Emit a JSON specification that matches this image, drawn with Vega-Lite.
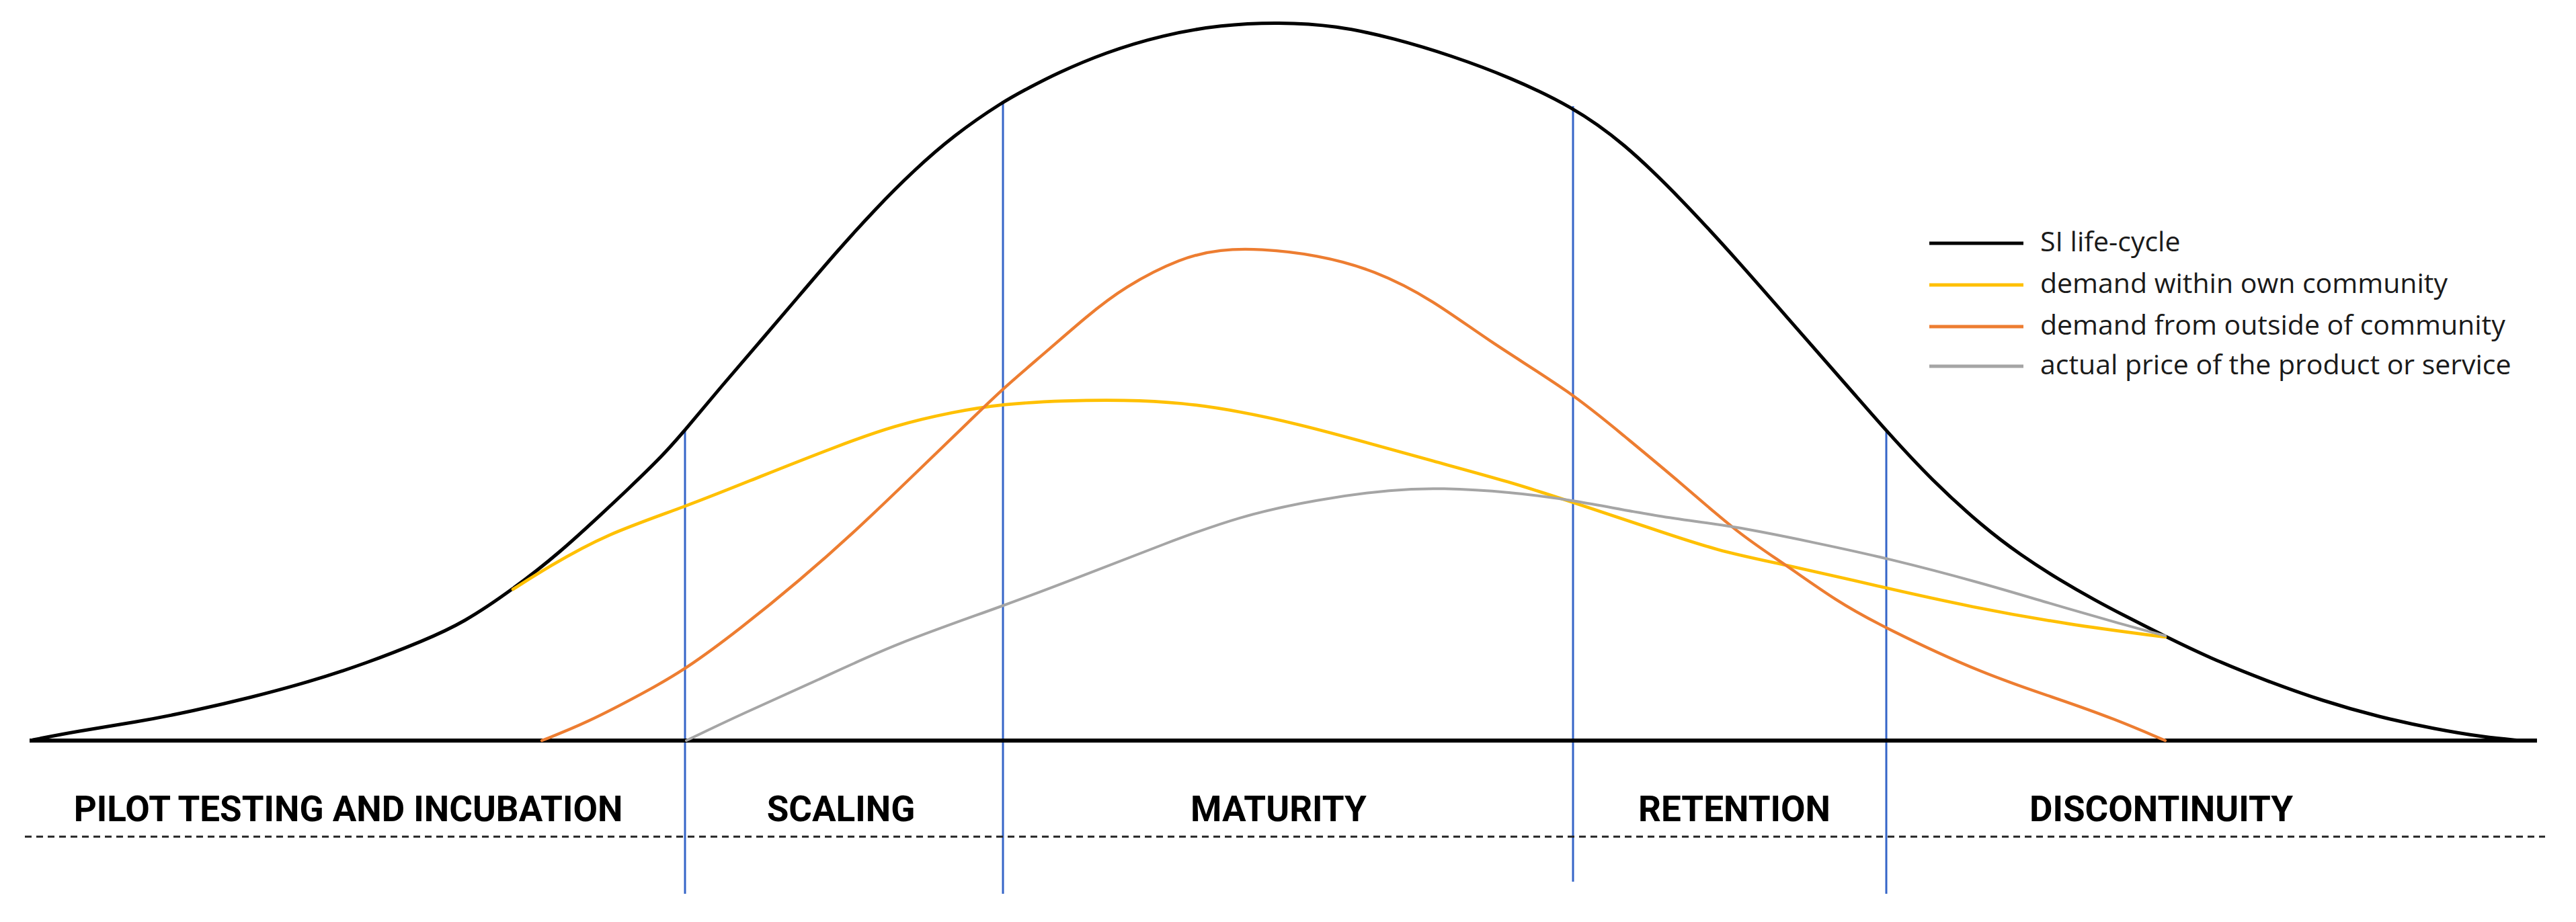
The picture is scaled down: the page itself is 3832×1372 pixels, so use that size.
{
  "$schema": "https://vega.github.io/schema/vega-lite/v6.json",
  "width": 3832,
  "height": 1372,
  "autosize": {"type": "fit", "contains": "padding"},
  "padding": 0,
  "background": "white",
  "config": {"view": {"stroke": null}},
  "datasets": {
    "curves": [
      {"series": "SI life-cycle", "x": 4.9, "y": 0.1},
      {"series": "SI life-cycle", "x": 11.5, "y": 1.4},
      {"series": "SI life-cycle", "x": 20.1, "y": 2.7},
      {"series": "SI life-cycle", "x": 28.7, "y": 4.4},
      {"series": "SI life-cycle", "x": 37.3, "y": 6.4},
      {"series": "SI life-cycle", "x": 45.9, "y": 8.7},
      {"series": "SI life-cycle", "x": 54.5, "y": 11.5},
      {"series": "SI life-cycle", "x": 63.1, "y": 14.9},
      {"series": "SI life-cycle", "x": 68.9, "y": 17.5},
      {"series": "SI life-cycle", "x": 76.3, "y": 22.5},
      {"series": "SI life-cycle", "x": 83.2, "y": 27.9},
      {"series": "SI life-cycle", "x": 90, "y": 34.2},
      {"series": "SI life-cycle", "x": 93, "y": 37},
      {"series": "SI life-cycle", "x": 98.7, "y": 42.5},
      {"series": "SI life-cycle", "x": 102, "y": 46.3},
      {"series": "SI life-cycle", "x": 107.3, "y": 52.7},
      {"series": "SI life-cycle", "x": 113.1, "y": 59.4},
      {"series": "SI life-cycle", "x": 118.8, "y": 66.1},
      {"series": "SI life-cycle", "x": 124.5, "y": 72.8},
      {"series": "SI life-cycle", "x": 130.3, "y": 79.2},
      {"series": "SI life-cycle", "x": 136, "y": 84.9},
      {"series": "SI life-cycle", "x": 141.8, "y": 90},
      {"series": "SI life-cycle", "x": 149.2, "y": 95.1},
      {"series": "SI life-cycle", "x": 153.2, "y": 97.2},
      {"series": "SI life-cycle", "x": 157, "y": 99.2},
      {"series": "SI life-cycle", "x": 164.4, "y": 102.4},
      {"series": "SI life-cycle", "x": 173, "y": 105},
      {"series": "SI life-cycle", "x": 181.6, "y": 106.5},
      {"series": "SI life-cycle", "x": 190.2, "y": 106.9},
      {"series": "SI life-cycle", "x": 198.8, "y": 106.4},
      {"series": "SI life-cycle", "x": 207.4, "y": 104.5},
      {"series": "SI life-cycle", "x": 216, "y": 101.9},
      {"series": "SI life-cycle", "x": 224.6, "y": 98.7},
      {"series": "SI life-cycle", "x": 233.8, "y": 94.4},
      {"series": "SI life-cycle", "x": 241.5, "y": 89},
      {"series": "SI life-cycle", "x": 250.1, "y": 80.6},
      {"series": "SI life-cycle", "x": 258.7, "y": 71.2},
      {"series": "SI life-cycle", "x": 267.3, "y": 61.3},
      {"series": "SI life-cycle", "x": 275.9, "y": 51.5},
      {"series": "SI life-cycle", "x": 280.5, "y": 46.2},
      {"series": "SI life-cycle", "x": 287.4, "y": 38.7},
      {"series": "SI life-cycle", "x": 295, "y": 31.8},
      {"series": "SI life-cycle", "x": 300.6, "y": 27.6},
      {"series": "SI life-cycle", "x": 306.2, "y": 24},
      {"series": "SI life-cycle", "x": 311.8, "y": 20.8},
      {"series": "SI life-cycle", "x": 316, "y": 18.6},
      {"series": "SI life-cycle", "x": 321.9, "y": 15.6},
      {"series": "SI life-cycle", "x": 328.7, "y": 12.3},
      {"series": "SI life-cycle", "x": 337.1, "y": 8.9},
      {"series": "SI life-cycle", "x": 345.5, "y": 5.9},
      {"series": "SI life-cycle", "x": 353.9, "y": 3.5},
      {"series": "SI life-cycle", "x": 362.3, "y": 1.7},
      {"series": "SI life-cycle", "x": 369.5, "y": 0.5},
      {"series": "SI life-cycle", "x": 375, "y": 0},

      {"series": "demand within own community", "x": 76.3, "y": 22.5},
      {"series": "demand within own community", "x": 81.5, "y": 25.8},
      {"series": "demand within own community", "x": 90.1, "y": 30.7},
      {"series": "demand within own community", "x": 102, "y": 34.8},
      {"series": "demand within own community", "x": 113.1, "y": 39.3},
      {"series": "demand within own community", "x": 124.5, "y": 43.8},
      {"series": "demand within own community", "x": 133.1, "y": 46.9},
      {"series": "demand within own community", "x": 141.8, "y": 48.9},
      {"series": "demand within own community", "x": 149.2, "y": 50.1},
      {"series": "demand within own community", "x": 158.6, "y": 50.6},
      {"series": "demand within own community", "x": 167.2, "y": 50.7},
      {"series": "demand within own community", "x": 175.8, "y": 50.3},
      {"series": "demand within own community", "x": 184.4, "y": 49},
      {"series": "demand within own community", "x": 193.1, "y": 47.1},
      {"series": "demand within own community", "x": 201.7, "y": 44.8},
      {"series": "demand within own community", "x": 213.1, "y": 41.6},
      {"series": "demand within own community", "x": 224.6, "y": 38.5},
      {"series": "demand within own community", "x": 233.8, "y": 35.5},
      {"series": "demand within own community", "x": 244.4, "y": 32},
      {"series": "demand within own community", "x": 255.8, "y": 28.1},
      {"series": "demand within own community", "x": 265.6, "y": 26.2},
      {"series": "demand within own community", "x": 280.5, "y": 22.7},
      {"series": "demand within own community", "x": 293.1, "y": 19.9},
      {"series": "demand within own community", "x": 307.5, "y": 17.3},
      {"series": "demand within own community", "x": 322.1, "y": 15.4},

      {"series": "demand from outside of community", "x": 80.6, "y": 0},
      {"series": "demand from outside of community", "x": 87.2, "y": 2.6},
      {"series": "demand from outside of community", "x": 95.8, "y": 7.1},
      {"series": "demand from outside of community", "x": 102, "y": 10.6},
      {"series": "demand from outside of community", "x": 110.2, "y": 16.7},
      {"series": "demand from outside of community", "x": 118.8, "y": 23.7},
      {"series": "demand from outside of community", "x": 127.4, "y": 31.3},
      {"series": "demand from outside of community", "x": 136, "y": 39.6},
      {"series": "demand from outside of community", "x": 144.6, "y": 47.9},
      {"series": "demand from outside of community", "x": 149.2, "y": 52.4},
      {"series": "demand from outside of community", "x": 155.7, "y": 57.9},
      {"series": "demand from outside of community", "x": 161.5, "y": 63},
      {"series": "demand from outside of community", "x": 167.2, "y": 67.5},
      {"series": "demand from outside of community", "x": 175.8, "y": 71.9},
      {"series": "demand from outside of community", "x": 181.6, "y": 73.1},
      {"series": "demand from outside of community", "x": 187.3, "y": 73.2},
      {"series": "demand from outside of community", "x": 195.9, "y": 72.3},
      {"series": "demand from outside of community", "x": 204.5, "y": 70},
      {"series": "demand from outside of community", "x": 213.1, "y": 65.6},
      {"series": "demand from outside of community", "x": 221.8, "y": 59.2},
      {"series": "demand from outside of community", "x": 233.8, "y": 51.8},
      {"series": "demand from outside of community", "x": 241.5, "y": 45.4},
      {"series": "demand from outside of community", "x": 250.1, "y": 38.3},
      {"series": "demand from outside of community", "x": 258.7, "y": 30.7},
      {"series": "demand from outside of community", "x": 265.6, "y": 26.2},
      {"series": "demand from outside of community", "x": 273.1, "y": 20.8},
      {"series": "demand from outside of community", "x": 280.5, "y": 16.7},
      {"series": "demand from outside of community", "x": 295, "y": 9.9},
      {"series": "demand from outside of community", "x": 306.2, "y": 6.2},
      {"series": "demand from outside of community", "x": 314.6, "y": 3.2},
      {"series": "demand from outside of community", "x": 322.1, "y": 0},

      {"series": "actual price of the product or service", "x": 102.1, "y": 0},
      {"series": "actual price of the product or service", "x": 110.2, "y": 3.9},
      {"series": "actual price of the product or service", "x": 121.7, "y": 9},
      {"series": "actual price of the product or service", "x": 133.1, "y": 14.4},
      {"series": "actual price of the product or service", "x": 149.2, "y": 20},
      {"series": "actual price of the product or service", "x": 161.5, "y": 24.7},
      {"series": "actual price of the product or service", "x": 173, "y": 29.2},
      {"series": "actual price of the product or service", "x": 184.4, "y": 33.4},
      {"series": "actual price of the product or service", "x": 195.9, "y": 35.9},
      {"series": "actual price of the product or service", "x": 207.4, "y": 37.4},
      {"series": "actual price of the product or service", "x": 214.3, "y": 37.6},
      {"series": "actual price of the product or service", "x": 224.6, "y": 37},
      {"series": "actual price of the product or service", "x": 234, "y": 35.8},
      {"series": "actual price of the product or service", "x": 247.2, "y": 33.2},
      {"series": "actual price of the product or service", "x": 257.6, "y": 32},
      {"series": "actual price of the product or service", "x": 270.2, "y": 29.4},
      {"series": "actual price of the product or service", "x": 280.5, "y": 27.2},
      {"series": "actual price of the product or service", "x": 295, "y": 23.4},
      {"series": "actual price of the product or service", "x": 304.6, "y": 20.5},
      {"series": "actual price of the product or service", "x": 316, "y": 17.2},
      {"series": "actual price of the product or service", "x": 322.1, "y": 15.6}
    ],
    "phases": [
      {"x": 101.9, "top": 46.4, "bottom": -22.8},
      {"x": 149.2, "top": 95.2, "bottom": -22.8},
      {"x": 234, "top": 94.4, "bottom": -21},
      {"x": 280.6, "top": 45.9, "bottom": -22.8}
    ],
    "labels": [
      {"label": "PILOT TESTING AND INCUBATION", "x": 51.8, "y": -12},
      {"label": "SCALING", "x": 125.1, "y": -12},
      {"label": "MATURITY", "x": 190.2, "y": -12},
      {"label": "RETENTION", "x": 258, "y": -12},
      {"label": "DISCONTINUITY", "x": 321.5, "y": -12}
    ],
    "legend": [
      {"series": "SI life-cycle", "x": 287, "x2": 301, "y": 74, "ty": 72.8},
      {"series": "demand within own community", "x": 287, "x2": 301, "y": 67.8, "ty": 66.6},
      {"series": "demand from outside of community", "x": 287, "x2": 301, "y": 61.6, "ty": 60.4},
      {"series": "actual price of the product or service", "x": 287, "x2": 301, "y": 55.7, "ty": 54.5}
    ],
    "axisline": [{"x": 4.4, "x2": 377.4, "y": 0}],
    "dashline": [{"x": 3.7, "x2": 378.6, "y": -14.3}]
  },
  "layer": [
    {
      "data": {"name": "phases"},
      "mark": {"type": "rule", "color": "#3565C8", "strokeWidth": 3},
      "encoding": {
        "x": {"field": "x", "type": "quantitative", "scale": {"domain": [0, 383.2], "nice": false, "zero": false}, "axis": null},
        "y": {"field": "top", "type": "quantitative", "scale": {"domain": [-27, 110.2], "nice": false, "zero": false}, "axis": null},
        "y2": {"field": "bottom"}
      }
    },
    {
      "data": {"name": "axisline"},
      "mark": {"type": "rule", "color": "#000000", "strokeWidth": 6},
      "encoding": {
        "x": {"field": "x", "type": "quantitative"},
        "x2": {"field": "x2"},
        "y": {"field": "y", "type": "quantitative"}
      }
    },
    {
      "data": {"name": "dashline"},
      "mark": {"type": "rule", "color": "#222222", "strokeWidth": 3, "strokeDash": [10, 7]},
      "encoding": {
        "x": {"field": "x", "type": "quantitative"},
        "x2": {"field": "x2"},
        "y": {"field": "y", "type": "quantitative"}
      }
    },
    {
      "data": {"name": "curves"},
      "mark": {"type": "line", "interpolate": "basis", "strokeCap": "round"},
      "encoding": {
        "x": {"field": "x", "type": "quantitative"},
        "y": {"field": "y", "type": "quantitative"},
        "color": {
          "field": "series", "type": "nominal",
          "scale": {
            "domain": ["SI life-cycle", "demand within own community", "demand from outside of community", "actual price of the product or service"],
            "range": ["#000000", "#FFC000", "#ED7D31", "#A5A5A5"]
          },
          "legend": null
        },
        "strokeWidth": {
          "field": "series", "type": "nominal",
          "scale": {
            "domain": ["SI life-cycle", "demand within own community", "demand from outside of community", "actual price of the product or service"],
            "range": [5, 4, 4, 7]
          },
          "legend": null
        },
        "order": {"field": "x", "type": "quantitative"}
      }
    },
    {
      "data": {"name": "legend"},
      "mark": {"type": "rule", "strokeWidth": 5},
      "encoding": {
        "x": {"field": "x", "type": "quantitative"},
        "x2": {"field": "x2"},
        "y": {"field": "y", "type": "quantitative"},
        "color": {"field": "series", "type": "nominal", "legend": null}
      }
    },
    {
      "data": {"name": "legend"},
      "mark": {"type": "text", "align": "left", "baseline": "alphabetic", "font": "Open Sans", "fontSize": 41, "color": "#1a1a1a", "dx": 25},
      "encoding": {
        "x": {"field": "x2", "type": "quantitative"},
        "y": {"field": "ty", "type": "quantitative"},
        "text": {"field": "series"}
      }
    },
    {
      "data": {"name": "labels"},
      "mark": {"type": "text", "align": "center", "baseline": "alphabetic", "font": "Roboto", "fontWeight": "bold", "fontSize": 53, "color": "#000000"},
      "encoding": {
        "x": {"field": "x", "type": "quantitative"},
        "y": {"field": "y", "type": "quantitative"},
        "text": {"field": "label"}
      }
    }
  ]
}
